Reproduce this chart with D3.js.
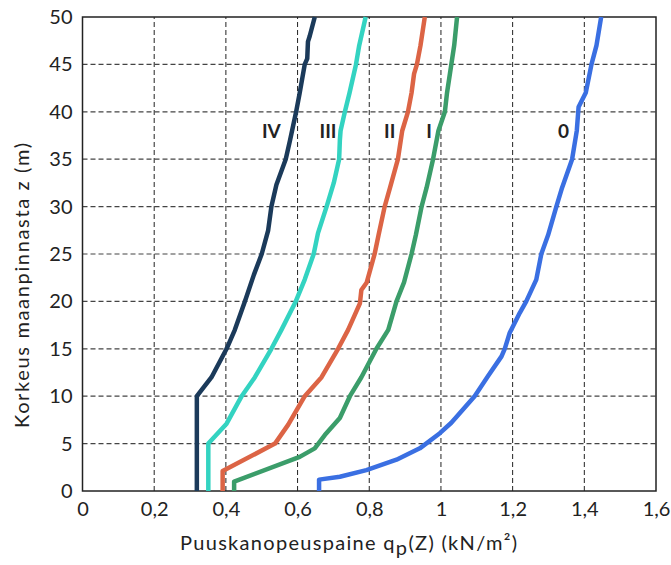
<!DOCTYPE html>
<html>
<head>
<meta charset="utf-8">
<script src="https://cdn.jsdelivr.net/npm/d3@7"></script>
<style>
  body { margin: 0; background: #fff; }
  svg text { font-family: Lato, "Open Sans", sans-serif; fill: #222; }
</style>
</head>
<body>
<svg id="chart" width="671" height="565"></svg>
<script>
// height (m) and peak velocity pressure (kN/m²) per terrain class
const classNames = ['0', 'I', 'II', 'III', 'IV'];
const classColors = ['#3a6fe2', '#3b9d6a', '#dc6445', '#33d3c1', '#1b3a5a'];

const z0 = [0, 1.2, 1.5, 2.2, 3.3, 4.5, 6.1, 7.2, 10, 12.1, 14.2, 15, 16.7, 18.8, 20, 22.3, 25, 27, 30, 32, 35, 38, 40.5, 42, 45, 47, 50];
const q0 = [0.660, 0.660, 0.718, 0.792, 0.876, 0.941, 0.997, 1.029, 1.094, 1.131, 1.169, 1.178, 1.192, 1.220, 1.238, 1.266, 1.280, 1.299, 1.322, 1.338, 1.366, 1.379, 1.384, 1.404, 1.420, 1.434, 1.447];

const zI = [0, 1, 3.6, 4.5, 5.9, 7.7, 10, 12, 15, 17, 20, 22, 25, 27, 30, 32, 35, 38, 40, 42, 45, 47, 50];
const qI = [0.423, 0.423, 0.606, 0.648, 0.676, 0.718, 0.746, 0.778, 0.820, 0.853, 0.876, 0.897, 0.918, 0.930, 0.946, 0.960, 0.978, 0.993, 1.011, 1.017, 1.029, 1.037, 1.045];

const zII = [0, 2.1, 5, 7, 10, 12, 15, 17, 19.8, 21.2, 22, 25, 27, 30, 32, 35, 38, 40, 42, 44, 45, 47, 50];
const qII = [0.391, 0.391, 0.537, 0.574, 0.620, 0.667, 0.713, 0.741, 0.774, 0.778, 0.793, 0.815, 0.826, 0.843, 0.858, 0.880, 0.892, 0.908, 0.918, 0.925, 0.933, 0.943, 0.955];

const zIII = [0, 5, 7.1, 10, 12, 15, 17, 20, 22.3, 25, 27.2, 30, 32.5, 35, 37, 38, 40, 42, 45, 47, 50];
const qIII = [0.351, 0.351, 0.402, 0.444, 0.481, 0.527, 0.555, 0.595, 0.620, 0.645, 0.657, 0.681, 0.701, 0.716, 0.718, 0.720, 0.732, 0.745, 0.763, 0.772, 0.790];

const zIV = [0, 10, 12, 15, 17, 20, 22.8, 25, 27.5, 30, 32.3, 35, 37, 40, 42, 45, 45.6, 47.4, 48, 50];
const qIV = [0.319, 0.319, 0.360, 0.402, 0.425, 0.453, 0.478, 0.500, 0.518, 0.527, 0.541, 0.567, 0.579, 0.596, 0.606, 0.620, 0.627, 0.629, 0.634, 0.648];

// label anchor for each class (q, z)
const labelQ = [1.342, 0.967, 0.857, 0.685, 0.527];
const labelZ = [37.9, 37.9, 37.9, 37.9, 37.9];

const xTicks = [0, 0.2, 0.4, 0.6, 0.8, 1, 1.2, 1.4, 1.6];
const xTickLabels = ['0', '0,2', '0,4', '0,6', '0,8', '1', '1,2', '1,4', '1,6'];
const yTicks = [0, 5, 10, 15, 20, 25, 30, 35, 40, 45, 50];

const series = [[z0, q0], [zI, qI], [zII, qII], [zIII, qIII], [zIV, qIV]];

const margin = {left: 82.5, right: 15, top: 17, bottom: 74};
const width = 671, height = 565;

const svg = d3.select('#chart');
const xs = d3.scaleLinear().domain([0, 1.6]).range([margin.left, width - margin.right]);
const ys = d3.scaleLinear().domain([0, 50]).range([height - margin.bottom, margin.top]);

// grid
svg.append('g').selectAll('line')
    .data(xTicks.slice(1, -1)).enter().append('line')
    .attr('x1', d => xs(d)).attr('x2', d => xs(d))
    .attr('y1', ys(0)).attr('y2', ys(50))
    .attr('stroke', '#222').attr('stroke-width', 1)
    .attr('stroke-dasharray', '5,3');

svg.append('g').selectAll('line')
    .data(yTicks.slice(1, -1)).enter().append('line')
    .attr('x1', xs(0)).attr('x2', xs(1.6))
    .attr('y1', d => ys(d)).attr('y2', d => ys(d))
    .attr('stroke', '#444').attr('stroke-width', 1.2)
    .attr('stroke-dasharray', '5,3');

// axes (labels only, no tick marks)
const xAxis = svg.append('g')
    .attr('transform', 'translate(0,' + ys(0) + ')')
    .call(d3.axisBottom(xs).tickValues(xTicks).tickSize(0).tickPadding(11)
        .tickFormat((d, i) => xTickLabels[i]));
const yAxis = svg.append('g')
    .attr('transform', 'translate(' + xs(0) + ',0)')
    .call(d3.axisLeft(ys).tickValues(yTicks).tickSize(0).tickPadding(10));
[xAxis, yAxis].forEach(function (a) {
    a.select('.domain').remove();
    a.selectAll('text').attr('font-size', 20).attr('font-family', 'Lato, sans-serif').attr('fill', '#222');
});

// frame
svg.append('rect')
    .attr('x', xs(0)).attr('y', ys(50))
    .attr('width', xs(1.6) - xs(0)).attr('height', ys(0) - ys(50))
    .attr('fill', 'none').attr('stroke', '#222').attr('stroke-width', 1.5);

// curves
const line = d3.line().x(d => xs(d[1])).y(d => ys(d[0]));
svg.append('g').selectAll('path')
    .data(series).enter().append('path')
    .attr('d', d => line(d[0].map((z, i) => [z, d[1][i]])))
    .attr('fill', 'none')
    .attr('stroke', (d, i) => classColors[i])
    .attr('stroke-width', 4.5)
    .attr('stroke-linejoin', 'round');

// class labels
svg.append('g').selectAll('text')
    .data(classNames).enter().append('text')
    .attr('x', (d, i) => xs(labelQ[i]))
    .attr('y', (d, i) => ys(labelZ[i]))
    .attr('text-anchor', 'middle')
    .attr('dy', '0.35em')
    .attr('font-size', 19)
    .attr('font-weight', 'bold')
    .text(d => d);

// axis titles
const xt = svg.append('text')
    .attr('x', 180).attr('y', 550)
    .attr('font-size', 20)
    .attr('textLength', 337)
    .attr('lengthAdjust', 'spacing');
xt.append('tspan').text('Puuskanopeuspaine q');
xt.append('tspan').attr('dy', 5).text('p');
xt.append('tspan').attr('dy', -5).text('(Z) (kN/m²)');

svg.append('text')
    .attr('transform', 'translate(29,428) rotate(-90)')
    .attr('font-size', 20)
    .attr('textLength', 285)
    .attr('lengthAdjust', 'spacing')
    .text('Korkeus maanpinnasta z (m)');
</script>
</body>
</html>
